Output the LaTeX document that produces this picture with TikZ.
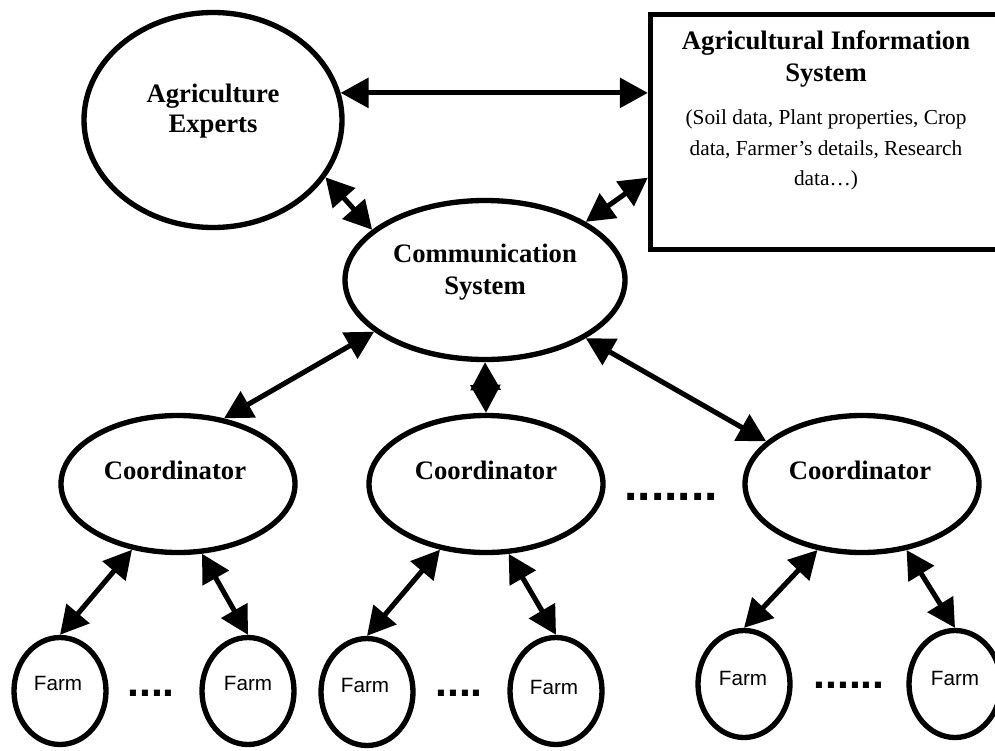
\documentclass[tikz,border=0pt]{standalone}
\usepackage{fontspec}
\setmainfont{Liberation Serif}
\newfontfamily\arialfont{Liberation Sans}
\usetikzlibrary{arrows.meta,calc,shapes.geometric}
\begin{document}
\begin{tikzpicture}[x=0.75pt,y=-0.75pt,
  ell/.style={draw, ellipse, line width=4pt, inner sep=0pt},
  link/.style={line width=3.8pt, {Triangle[length=21pt,width=22pt]}-{Triangle[length=21pt,width=22pt]}},
  big/.style={font=\bfseries\fontsize{20}{24}\selectfont, anchor=base, inner sep=0pt},
  small/.style={font=\fontsize{16}{19}\selectfont, anchor=base, inner sep=0pt},
  farmtxt/.style={font=\arialfont\fontsize{15.5}{18}\selectfont, anchor=base, inner sep=0pt},
  dotrow/.style={font=\arialfont\bfseries\fontsize{32}{36}\selectfont, anchor=base, inner sep=0pt}]
\useasboundingbox (0,0) rectangle (995,750);

% main nodes (sizes in pt = px * 0.75)
\node[ell, minimum width=193.5pt, minimum height=161.25pt] (exp) at (213,120) {};
\node[draw, line width=4pt, minimum width=263.25pt, minimum height=176.25pt, inner sep=0pt] (ais) at (826,132) {};
\node[ell, minimum width=210pt, minimum height=119.25pt] (com) at (485,280) {};
\node[ell, minimum width=175.5pt, minimum height=102.75pt] (cl) at (178,484) {};
\node[ell, minimum width=175.5pt, minimum height=102.75pt] (cm) at (486,484) {};
\node[ell, minimum width=175.5pt, minimum height=102.75pt] (cr) at (862,484) {};
\node[ell, minimum width=69pt, minimum height=80.25pt] (f1) at (60,691) {};
\node[ell, minimum width=69pt, minimum height=80.25pt] (f2) at (248,691) {};
\node[ell, minimum width=69pt, minimum height=80.25pt] (f3) at (367,692) {};
\node[ell, minimum width=69pt, minimum height=80.25pt] (f4) at (556,691) {};
\node[ell, minimum width=69pt, minimum height=80.25pt] (f5) at (744,684) {};
\node[ell, minimum width=69pt, minimum height=80.25pt] (f6) at (955,684) {};

% texts
\node[big] (t1) at (213,102) {Agriculture};
\node[big] (t2) at (213,132) {Experts};
\node[big] (t3) at (826,49) {Agricultural Information};
\node[big] (t4) at (826,81) {System};
\node[small] (t5) at (826,124.5) {(Soil data, Plant properties, Crop};
\node[small] (t6) at (826,155.5) {data, Farmer’s details, Research};
\node[small] (t7) at (826,185.5) {data…)};
\node[big] (t8) at (485,262) {Communication};
\node[big] (t9) at (485,294) {System};
\node[big] (t10) at (175,479) {Coordinator};
\node[big] (t11) at (486,479) {Coordinator};
\node[big] (t12) at (860,479) {Coordinator};
\node[farmtxt] (ft1) at (58,690) {Farm};
\node[farmtxt] (ft2) at (248,690) {Farm};
\node[farmtxt] (ft3) at (365,692) {Farm};
\node[farmtxt] (ft4) at (554,694) {Farm};
\node[farmtxt] (ft5) at (743,685) {Farm};
\node[farmtxt] (ft6) at (955,685) {Farm};
\node[dotrow] (d1) at (151,696) {....};
\node[dotrow] (d2) at (459,696) {....};
\node[dotrow] (d3) at (849,688) {......};
\node[dotrow, font=\arialfont\bfseries\fontsize{36}{40}\selectfont] (d4) at (671,500) {.......};

% connectors
\draw[link] (exp.12) -- (exp.12 -| ais.west);
\draw[link] (exp.-27) -- (com.156);
\draw[link] ($(ais.north west)!0.69!(ais.south west)$) -- (com.30);
\draw[link] (com.-155) -- (cl.55);
\draw[link] (com.south) -- (cm.north);
\draw[link] (com.-30) -- (cr.156);
\draw[link] (cl.-125) -- (f1.north);
\draw[link] (cl.-71) -- (f2.north);
\draw[link] (cm.-125) -- (f3.north);
\draw[link] (cm.-72) -- (f4.north);
\draw[link] (cr.-124) -- (f5.north);
\draw[link] (cr.-56) -- (f6.north);
\end{tikzpicture}
\end{document}
